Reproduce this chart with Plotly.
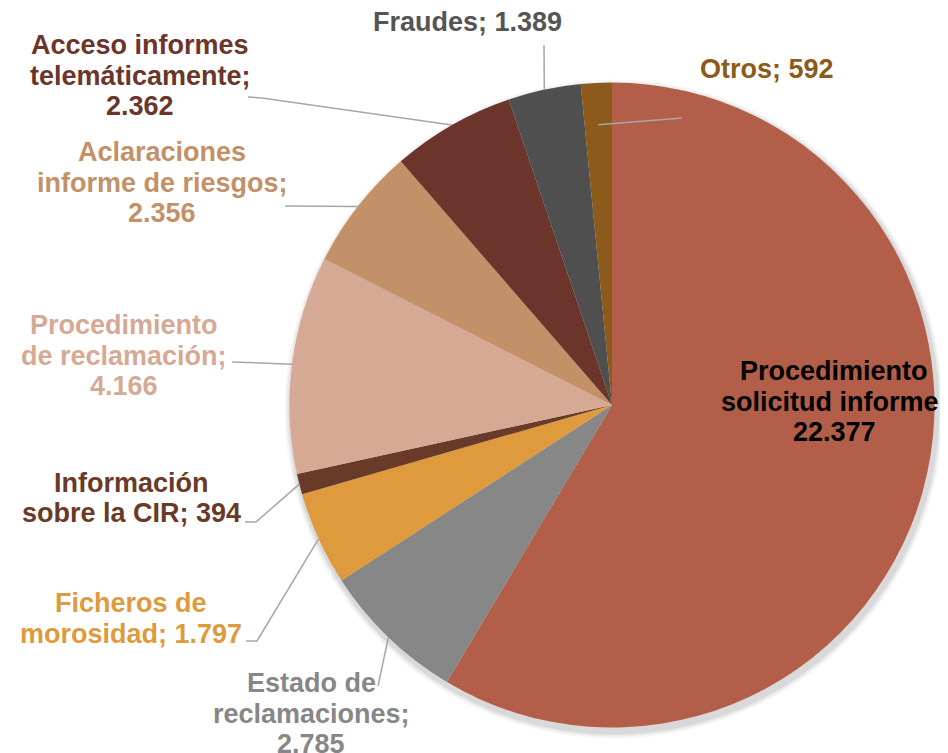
import numpy as np
import plotly.graph_objects as go

# ================== DATA ==================
labels = ["Procedimiento solicitud informe", "Estado de reclamaciones", "Ficheros de morosidad",
          "Información sobre la CIR", "Procedimiento de reclamación",
          "Aclaraciones informe de riesgos", "Acceso informes telemáticamente", "Fraudes", "Otros"]
values = [22377, 2785, 1797, 394, 4166, 2356, 2362, 1389, 592]
value_text = ["22.377", "2.785", "1.797", "394", "4.166", "2.356", "2.362", "1.389", "592"]
# how each label is broken into lines in the picture
label_lines = [
    ["Procedimiento", "solicitud informe;", "{v}"],
    ["Estado de", "reclamaciones;", "{v}"],
    ["Ficheros de", "morosidad; {v}"],
    ["Información", "sobre la CIR; {v}"],
    ["Procedimiento", "de reclamación;", "{v}"],
    ["Aclaraciones", "informe de riesgos;", "{v}"],
    ["Acceso informes", "telemáticamente;", "{v}"],
    ["Fraudes; {v}"],
    ["Otros; {v}"],
]
slice_colors = ["#B25E48", "#878787", "#DE9A3C", "#6A3A28", "#D6A995",
                "#C39168", "#6B352B", "#4F4F4F", "#8C5A1A"]
text_colors = ["#000000", "#878787", "#DE9A3C", "#6A3A28", "#D6A995",
               "#C39168", "#6B352B", "#555555", "#8C5A1A"]

# ================== LAYOUT (pixels) ==================
W, H = 948, 753
PAGE_OFF = 8          # the html body margin shifts the figure by this much
CX, CY, R = 612, 405, 322.5
FONT = 27
LINE_H = 30.5
# centre x and first-line centre y of each label block
text_pos = [(834, 371), (311, 683), (131, 603), (131, 483), (124, 325),
            (162, 152), (140, 45), (467, 22), (767, 69)]
# leader line start (near text), optional elbow, depth of end point into slice
leaders = [None,
           ([(378, 686)], 1.0),
           ([(246, 641), (257, 641)], 1.0),
           ([(245, 522), (256, 522)], 1.0),
           ([(232, 362)], 1.0),
           ([(285, 206)], 1.0),
           ([(248, 97), (262, 98)], 1.0),
           ([(544, 45)], 1.0),
           ([(682, 118)], 0.87)]


def px(x, y):
    return (x - PAGE_OFF) / W, 1 - (y - PAGE_OFF) / H


fig = go.Figure()
x0, y1 = px(CX - R, CY - R)
x1, y0 = px(CX + R, CY + R)
fig.add_trace(go.Pie(labels=labels, values=values, sort=False, direction="clockwise",
                     rotation=0, textinfo="none", hoverinfo="label+value",
                     marker=dict(colors=slice_colors, line=dict(width=0)),
                     domain=dict(x=[x0, x1], y=[y0, y1]), showlegend=False))

# soft shadow behind the pie
for off, alpha in [(7, 0.03), (5, 0.05), (3, 0.07)]:
    a0, b1 = px(CX - R - off + 2, CY - R - off + 4)
    a1, b0 = px(CX + R + off + 2, CY + R + off + 4)
    fig.add_shape(type="circle", xref="paper", yref="paper", x0=a0, x1=a1, y0=b0, y1=b1,
                  fillcolor=f"rgba(0,0,0,{alpha})", line=dict(width=0), layer="below")

# label text and leader lines, positioned from the slice angles
total = sum(values)
cum = np.cumsum([0] + values)
for i in range(len(values)):
    mid = np.deg2rad((cum[i] + cum[i + 1]) / 2 / total * 360)
    cx, cy = text_pos[i]
    for k, line in enumerate(label_lines[i]):
        tx, ty = px(cx, cy + k * LINE_H)
        fig.add_annotation(x=tx, y=ty, xref="paper", yref="paper", showarrow=False,
                           text=line.format(v=value_text[i]), xanchor="center", yanchor="middle",
                           font=dict(family="Liberation Sans", size=FONT, color=text_colors[i],
                                     weight="bold"))
    if leaders[i] is None:
        continue
    pts, depth = leaders[i]
    ex = CX + depth * R * np.sin(mid)
    ey = CY - depth * R * np.cos(mid)
    path_pts = [px(*p) for p in pts] + [px(ex, ey)]
    path = "M " + " L ".join(f"{a},{b}" for a, b in path_pts)
    fig.add_shape(type="path", xref="paper", yref="paper", path=path,
                  line=dict(color="#A6A6A6", width=1.5))

fig.update_layout(width=W, height=H, margin=dict(l=0, r=0, t=0, b=0),
                  paper_bgcolor="white", plot_bgcolor="white")
fig.write_html("out.html")
